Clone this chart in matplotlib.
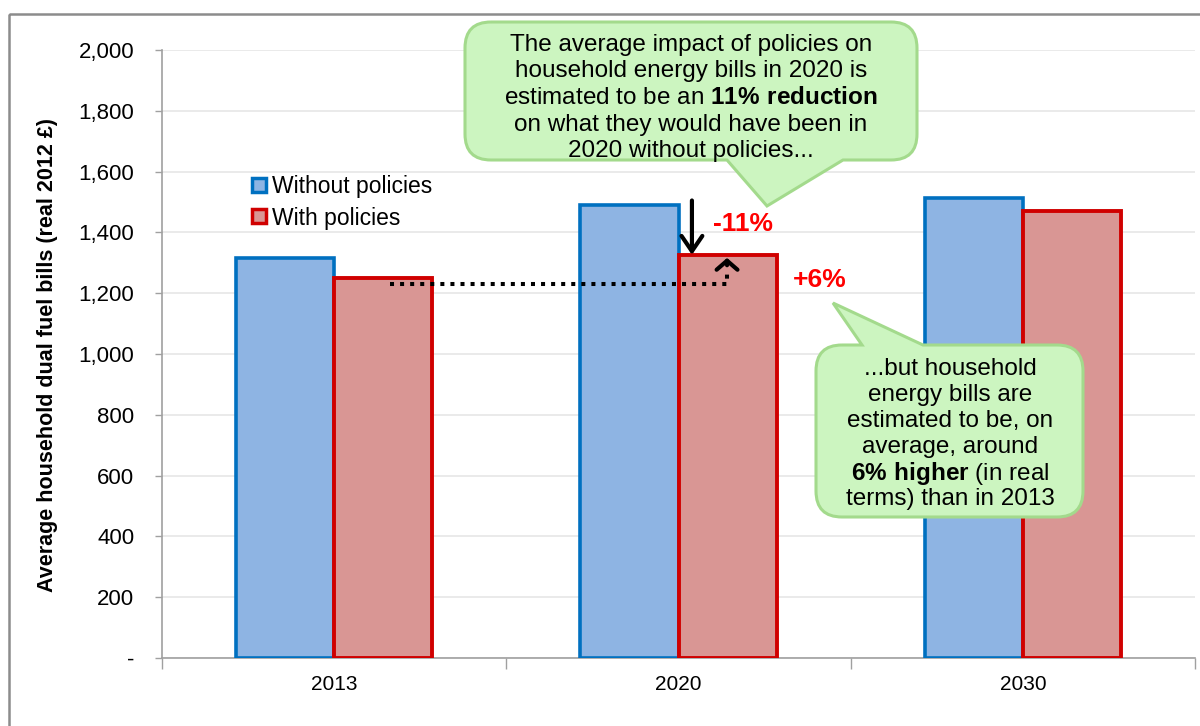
import numpy as np
import matplotlib
matplotlib.use('Agg')
import matplotlib.pyplot as plt
from matplotlib.path import Path
from matplotlib.patches import PathPatch, Rectangle
from matplotlib.lines import Line2D
from matplotlib.transforms import Affine2D

plt.rcParams['font.family'] = ['Liberation Sans', 'DejaVu Sans']
plt.rcParams['mathtext.fontset'] = 'custom'
plt.rcParams['mathtext.rm'] = 'Liberation Sans'
plt.rcParams['mathtext.bf'] = 'Liberation Sans:bold'

# average dual fuel bill, real 2012 £
years = ['2013', '2020', '2030']
without_policies = [1316, 1490, 1513]
with_policies = [1250, 1326, 1470]

W, H = 1200, 726
fig = plt.figure(figsize=(W / 100, H / 100), dpi=100)
ax = fig.add_axes([162 / W, 1 - 658 / H, (1195 - 162) / W, (658 - 50) / H])

# pixel space of the figure, y pointing down
pix = Affine2D().scale(1 / W, -1 / H).translate(0, 1) + fig.transFigure

fig.patches.append(Rectangle((9, 14), W, H, transform=pix,
                             fill=False, edgecolor='#8c8c8c', lw=1.8))

x = np.arange(len(years)) + 0.5
w = 0.285
ax.bar(x - w / 2, without_policies, w, color='#8eb4e3', edgecolor='#0070c0', lw=2.6,
       label='Without policies', zorder=3)
ax.bar(x + w / 2, with_policies, w, color='#d99694', edgecolor='#d00000', lw=2.8,
       label='With policies', zorder=3)

ax.set_xlim(0, 3)
ax.set_ylim(0, 2000)
ax.set_yticks(np.arange(0, 2001, 200))
ax.set_yticklabels(['-'] + ['{:,}'.format(v) for v in range(200, 2001, 200)])
ax.set_xticks([0, 1, 2, 3])
ax.set_xticklabels([])
ax.set_xticks(x, minor=True)
ax.set_xticklabels(years, minor=True, family=['Liberation Sans Narrow', 'Liberation Sans'])
ax.tick_params(axis='x', which='major', length=8, color='#a0a0a0', width=1)
ax.tick_params(axis='x', which='minor', length=0, pad=12, labelsize=15)
ax.tick_params(axis='y', length=5, color='#a0a0a0', width=1, labelsize=16, pad=15)
ax.yaxis.grid(True, color='#e6e6e6', lw=1.2, zorder=0)
ax.set_axisbelow(True)
for s in ['top', 'right']:
    ax.spines[s].set_visible(False)
for s in ['left', 'bottom']:
    ax.spines[s].set_color('#a0a0a0')
    ax.spines[s].set_linewidth(1.2)
fig.text(48 / W, 1 - 355 / H, 'Average household dual fuel bills (real 2012 £)', fontsize=15.5,
         fontweight='bold', rotation=90, ha='center', va='center')

handles = [Line2D([], [], marker='s', ls='none', markersize=10, markerfacecolor='#8eb4e3',
                  markeredgecolor='#0070c0', markeredgewidth=2.5),
           Line2D([], [], marker='s', ls='none', markersize=10, markerfacecolor='#d99694',
                  markeredgecolor='#d00000', markeredgewidth=2.5)]
ax.legend(handles, ['Without policies', 'With policies'], loc='upper left',
          bbox_to_anchor=(0.072, 0.82), frameon=False, fontsize=16.5,
          handlelength=0.6, handletextpad=0.25, labelspacing=0.35, borderpad=0.2)

# change figures shown next to the 2020 bars
red = '#ff0000'
cut = round((with_policies[1] / without_policies[1] - 1) * 100)
rise = round((with_policies[1] / with_policies[0] - 1) * 100)

ax.annotate('', xy=(1.539, with_policies[1]), xytext=(1.539, without_policies[1] + 15),
            arrowprops=dict(arrowstyle='->,head_width=0.75,head_length=1.1', lw=3,
                            color='black', shrinkA=0, shrinkB=0), zorder=5)
ax.text(1.6, 1428, '{:d}%'.format(cut), color=red, fontsize=19, fontweight='bold',
        ha='left', va='center', zorder=5)

ax.plot([0.662, 1.641, 1.641], [1230, 1230, 1268], color='black', lw=2.9,
        ls=(0, (1, 1.5)), zorder=5)
ax.annotate('', xy=(1.641, with_policies[1] - 10), xytext=(1.641, 1292),
            arrowprops=dict(arrowstyle='->,head_width=0.75,head_length=0.65', lw=3,
                            color='black', shrinkA=0, shrinkB=0), zorder=5)
ax.text(1.91, 1243, '+{:d}%'.format(rise), color=red, fontsize=19, fontweight='bold',
        ha='center', va='center', zorder=5)


def callout(x0, y0, x1, y1, r, tail, side):
    bx0, bx1, axp, ayp = tail
    verts = [(x0 + r, y0)]
    codes = [Path.MOVETO]
    if side == 'top':
        verts += [(bx0, y0), (axp, ayp), (bx1, y0)]
        codes += [Path.LINETO] * 3
    verts += [(x1 - r, y0), (x1, y0), (x1, y0 + r), (x1, y1 - r), (x1, y1), (x1 - r, y1)]
    codes += [Path.LINETO, Path.CURVE3, Path.CURVE3, Path.LINETO, Path.CURVE3, Path.CURVE3]
    if side == 'bottom':
        verts += [(bx1, y1), (axp, ayp), (bx0, y1)]
        codes += [Path.LINETO] * 3
    verts += [(x0 + r, y1), (x0, y1), (x0, y1 - r), (x0, y0 + r), (x0, y0), (x0 + r, y0)]
    codes += [Path.LINETO, Path.CURVE3, Path.CURVE3, Path.LINETO, Path.CURVE3, Path.CURVE3]
    p = PathPatch(Path(verts, codes), transform=pix, facecolor='#ccf5c0',
                  edgecolor='#a3da8c', lw=2.2, zorder=10)
    fig.patches.append(p)


def lines(cx, ys, texts, size=17.5):
    for yy, t in zip(ys, texts):
        fig.text(cx / W, 1 - yy / H, t, ha='center', va='center_baseline', fontsize=size,
                 zorder=11)


callout(465, 22, 917, 160, 26, (727, 843, 767, 206), 'bottom')
lines(691, [42, 69, 96, 122, 148],
      ['The average impact of policies on',
       'household energy bills in 2020 is',
       r'estimated to be an $\mathbf{11\%\ reduction}$',
       'on what they would have been in',
       '2020 without policies...'])

callout(816, 345, 1083, 517, 26, (862, 923, 833, 303), 'top')
lines(950, [367, 392, 418, 444, 470, 496],
      ['...but household',
       'energy bills are',
       'estimated to be, on',
       'average, around',
       r'$\mathbf{6\%\ higher}$ (in real',
       'terms) than in 2013'])

fig.savefig('out.png', dpi=100)
